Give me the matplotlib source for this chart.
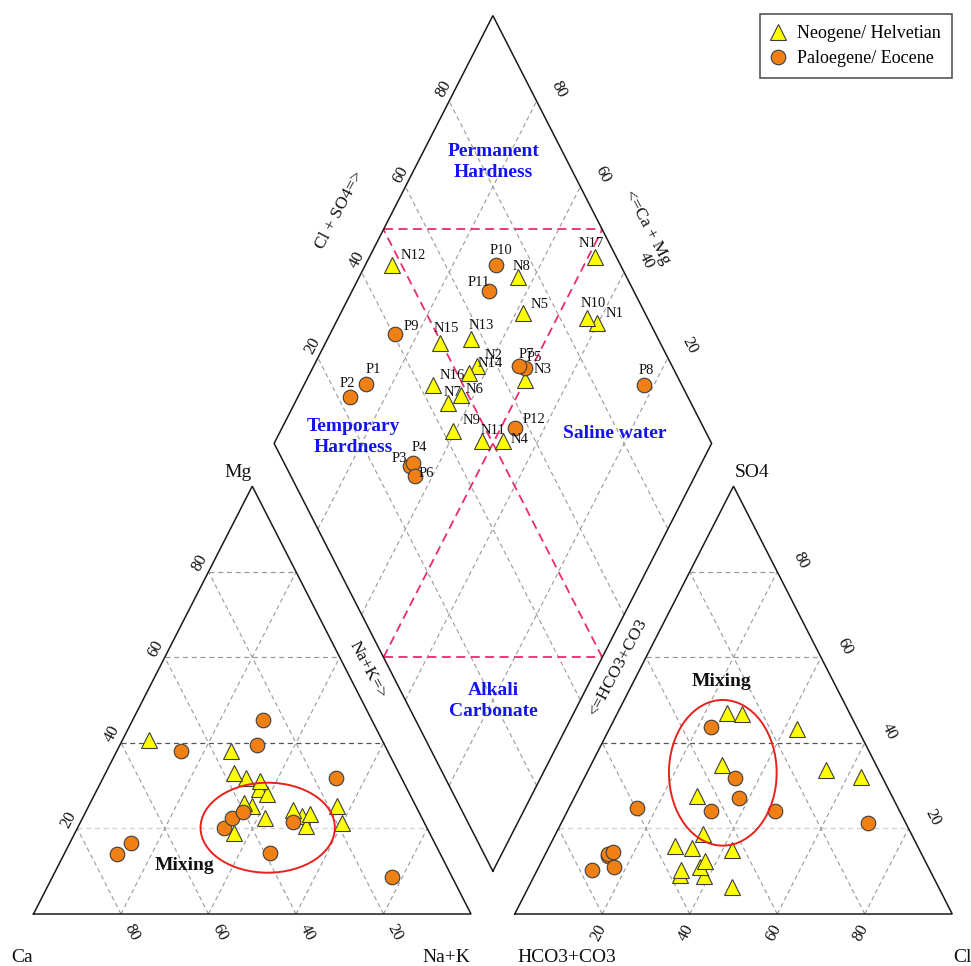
import numpy as np
import matplotlib
matplotlib.use("Agg")
import matplotlib.pyplot as plt
from matplotlib.lines import Line2D
from matplotlib.patches import Ellipse

plt.rcParams['font.family'] = ['Liberation Serif', 'DejaVu Serif']

# ---------------- sample chemistry (meq %) ----------------
neo_names = ['N1', 'N2', 'N3', 'N4', 'N5', 'N6', 'N7', 'N8', 'N9', 'N10',
             'N11', 'N12', 'N13', 'N14', 'N15', 'N16', 'N17']
neo_ca = [19.0, 37.5, 27.1, 27.5, 35.9, 33.7, 38.9, 44.6, 32.7, 17.9,
          28.6, 53.3, 35.5, 32.6, 35.8, 37.7, 25.1]
neo_mg = [21.2, 25.3, 22.9, 20.5, 22.5, 29.3, 26.0, 19.0, 28.0, 25.3,
          24.2, 40.7, 31.7, 31.1, 38.0, 32.9, 23.3]
neo_nak = [59.8, 37.2, 50.0, 52.0, 41.6, 37.0, 35.1, 36.4, 39.3, 56.8,
           47.2, 6.0, 32.8, 36.3, 26.2, 29.4, 51.6]
neo_hco3 = [12.1, 44.6, 35.2, 47.5, 28.0, 51.8, 55.5, 24.7, 57.7, 13.8,
            52.2, 52.2, 42.9, 47.2, 50.3, 56.9, 4.9]
neo_so4 = [33.6, 27.6, 34.8, 18.8, 47.0, 15.5, 15.8, 46.8, 9.0, 43.3,
           8.9, 11.1, 14.9, 6.3, 12.3, 10.4, 32.1]
neo_cl = [54.3, 27.8, 30.0, 33.7, 25.0, 32.7, 28.7, 28.5, 33.3, 42.9,
          38.9, 36.7, 42.2, 46.5, 37.4, 32.7, 63.0]

pal_names = ['P1', 'P2', 'P3', 'P4', 'P5', 'P6', 'P7', 'P8', 'P9', 'P10',
             'P11', 'P12']
pal_ca = [69.4, 74.0, 46.4, 43.5, 29.9, 40.1, 38.8, 13.7, 47.2, 24.9, 29.2, 15.0]
pal_mg = [16.6, 14.0, 20.0, 22.4, 21.5, 23.9, 14.3, 8.6, 38.0, 45.4, 39.6, 31.9]
pal_nak = [14.0, 12.0, 33.6, 34.1, 48.6, 36.0, 46.9, 77.7, 14.8, 29.7, 31.2, 53.1]
pal_hco3 = [72.0, 77.2, 71.6, 70.4, 33.7, 71.7, 35.1, 8.6, 59.7, 28.5, 33.2, 43.2]
pal_so4 = [13.5, 10.2, 14.0, 14.5, 31.9, 11.1, 27.1, 21.3, 24.7, 24.1, 43.7, 24.1]
pal_cl = [14.5, 12.6, 14.4, 15.1, 34.4, 17.2, 37.8, 70.1, 15.6, 47.4, 23.1, 32.7]

grid_levels = [20, 40, 60, 80]

# ---------------- Piper geometry ----------------
H = np.sqrt(3) / 2          # triangle height (side = 1)
GAP = 0.1                   # gap between the two base triangles
RX0 = 1 + GAP               # left corner of the anion triangle
BX = 1 + GAP / 2            # bottom vertex of the diamond
HB = GAP / 2 * np.sqrt(3)


def cation_xy(mg, nak):
    mg = np.asarray(mg) / 100.0
    nak = np.asarray(nak) / 100.0
    return nak + 0.5 * mg, H * mg


def anion_xy(so4, cl):
    so4 = np.asarray(so4) / 100.0
    cl = np.asarray(cl) / 100.0
    return RX0 + cl + 0.5 * so4, H * so4


def diamond_ab(a, b):
    """a = Cl+SO4 fraction, b = Ca+Mg fraction."""
    a = np.asarray(a, dtype=float)
    b = np.asarray(b, dtype=float)
    return BX + 0.5 * (a - b), HB + H * (a + b)


def diamond_xy(ca, mg, hco3):
    a = 1 - np.asarray(hco3) / 100.0
    b = (np.asarray(ca) + np.asarray(mg)) / 100.0
    return diamond_ab(a, b)


# ---------------- figure ----------------
W, Hpx = 971, 966
X0, Y0, SX, SY = 33.5, 914.0, 437.5, 494.0
fig = plt.figure(figsize=(W / 100, Hpx / 100), dpi=100)
ax = fig.add_axes([0, 0, 1, 1])
ax.set_xlim(-X0 / SX, (W - X0) / SX)
ax.set_ylim((Y0 - Hpx) / SY, Y0 / SY)
ax.axis('off')


def px(x, y):
    return (x - X0) / SX, (Y0 - y) / SY


GRID = '#9a9a9a'
DASH = (0, (4, 3))
hcol = {20: '#d2d2d2', 40: '#555555', 60: '#9a9a9a', 80: '#9a9a9a'}


def seg(p, q, **kw):
    ax.plot([p[0], q[0]], [p[1], q[1]], **kw)


# triangle grids
for ox in (0.0, RX0):
    for lv in grid_levels:
        k = lv / 100.0
        seg((ox + 0.5 * k, H * k), (ox + 1 - 0.5 * k, H * k),
            color=hcol[lv], lw=0.9, ls=DASH, zorder=1)
        seg((ox + k, 0), (ox + k + 0.5 * (1 - k), H * (1 - k)),
            color=GRID, lw=0.8, ls=DASH, zorder=1)
        seg((ox + 1 - k, 0), (ox + 0.5 * (1 - k), H * (1 - k)),
            color=GRID, lw=0.8, ls=DASH, zorder=1)

# diamond grid
for lv in grid_levels:
    k = lv / 100.0
    xs, ys = diamond_ab([k, k], [0, 1])
    ax.plot(xs, ys, color=GRID, lw=0.8, ls=DASH, zorder=1)
    xs, ys = diamond_ab([0, 1], [k, k])
    ax.plot(xs, ys, color=GRID, lw=0.8, ls=DASH, zorder=1)

# classification lines inside the diamond
PINK = '#EE2A6E'
PDASH = (0, (5, 3))
for a_pts, b_pts in (([0.5, 0.5], [0, 1]), ([0, 1], [0.5, 0.5]),
                     ([0, 0.5], [0.5, 0]), ([0.5, 1], [1, 0.5])):
    xs, ys = diamond_ab(a_pts, b_pts)
    ax.plot(xs, ys, color=PINK, lw=1.3, ls=PDASH, zorder=2)

# outlines
EDGE = dict(color='#1a1a1a', lw=1.1, zorder=3, solid_joinstyle='miter')
ax.plot([0, 1, 0.5, 0], [0, 0, H, 0], **EDGE)
ax.plot([RX0, RX0 + 1, RX0 + 0.5, RX0], [0, 0, H, 0], **EDGE)
xs, ys = diamond_ab([0, 1, 1, 0, 0], [0, 0, 1, 1, 0])
ax.plot(xs, ys, **EDGE)

# tick labels
TICK_FS = 12


def tick(u, v, txt, dx, dy, rot):
    ax.annotate(txt, xy=(u, v), xytext=(dx, -dy), textcoords='offset pixels',
                ha='center', va='center', rotation=rot, rotation_mode='anchor',
                fontsize=TICK_FS, color='#111111')


for lv in grid_levels:
    k = lv / 100.0
    tick(0.5 * k, H * k, str(lv), -9, -9, 62)                 # Mg
    tick(1 - k, 0, str(lv), 11, 18, -62)                      # Ca
    tick(RX0 + k, 0, str(lv), -4, 19, 62)                     # Cl
    tick(RX0 + 1 - 0.5 * k, H * k, str(lv), 24, -11, -62)     # SO4
    u, v = diamond_ab(k, 1)
    tick(u, v, str(lv), -5, -12, 62)                          # Cl + SO4
    u, v = diamond_ab(1, k)
    tick(u, v, str(lv), 22, -12, -62)                         # Ca + Mg

# axis names
AX_FS = 14
for txt, (x, y) in (('Mg', (238.5, 472.5)), ('SO4', (752, 472.5)),
                    ('Ca', (22.5, 958)), ('Na+K', (446, 958)),
                    ('HCO3+CO3', (566.7, 958)), ('Cl', (962, 958))):
    ax.text(*px(x, y), txt, ha='center', va='center', fontsize=AX_FS,
            color='#111111')

SIDE_FS = 12.5
for txt, (x, y), rot in (('Na+K=>', (368, 670), -62),
                         ('<=HCO3+CO3', (618, 668), 62),
                         ('Cl + SO4=>', (340, 210), 62),
                         ('<=Ca + Mg', (647, 227), -62)):
    ax.text(*px(x, y), txt, ha='center', va='center', fontsize=SIDE_FS,
            rotation=rot, rotation_mode='anchor', color='#111111')

# water type names
BLUE = '#1414F0'
for txt, (x, y) in (('Permanent\nHardness', (493.3, 161.7)),
                    ('Temporary\nHardness', (353, 437)),
                    ('Saline water', (615, 433)),
                    ('Alkali\nCarbonate', (493.3, 701))):
    ax.text(*px(x, y), txt, ha='center', va='center', fontsize=14,
            fontweight='bold', color=BLUE, linespacing=1.3, zorder=4)

for x, y in ((184.3, 865.7), (721.7, 681.7)):
    ax.text(*px(x, y), 'Mixing', ha='center', va='center', fontsize=14,
            fontweight='bold', color='#111111', zorder=4)

# mixing zones
for (x, y), w, h in (((267.7, 827.7), 134.3, 90.0),
                     ((722.8, 772.8), 107.7, 145.7)):
    ax.add_patch(Ellipse(px(x, y), w / SX, h / SY, fill=False,
                         edgecolor='#E8211D', lw=1.4, zorder=6))

# ---------------- samples ----------------
YEL = '#FFFF00'
ORG = '#F08014'
MEDGE = '#3d3d3d'
tri_kw = dict(ls='none', marker='^', ms=11, mfc=YEL, mec=MEDGE, mew=0.8, zorder=5)
cir_kw = dict(ls='none', marker='o', ms=10.5, mfc=ORG, mec=MEDGE, mew=0.8, zorder=5)

ax.plot(*cation_xy(neo_mg, neo_nak), **tri_kw)
ax.plot(*anion_xy(neo_so4, neo_cl), **tri_kw)
ax.plot(*cation_xy(pal_mg, pal_nak), **cir_kw)
ax.plot(*anion_xy(pal_so4, pal_cl), **cir_kw)
nd = diamond_xy(neo_ca, neo_mg, neo_hco3)
pd_ = diamond_xy(pal_ca, pal_mg, pal_hco3)
ax.plot(*nd, **tri_kw)
ax.plot(*pd_, **cir_kw)

# label offsets (pixels, right / down)
label_off = {
    'N1': (17, -10), 'N2': (17, -10), 'N3': (17, -11), 'N4': (17, -2),
    'N5': (17, -9), 'N6': (14, -6), 'N7': (4, -11), 'N8': (3, -10),
    'N9': (19, -10), 'N10': (6, -14), 'N11': (11, -10), 'N12': (21, -9),
    'N13': (11, -14), 'N14': (21, -9), 'N15': (6, -14), 'N16': (20, -9),
    'N17': (-4, -14),
    'P1': (7, -14), 'P2': (-3, -14), 'P3': (-10, -7), 'P4': (6, -15),
    'P5': (9, -10), 'P6': (12, -3), 'P7': (8, -12), 'P8': (2, -14),
    'P9': (17, -8), 'P10': (5, -14), 'P11': (-10, -9), 'P12': (19, -8),
}
for names, (xs, ys) in ((neo_names, nd), (pal_names, pd_)):
    for nm, x, y in zip(names, xs, ys):
        dx, dy = label_off[nm]
        ax.annotate(nm, xy=(x, y), xytext=(dx, -dy), textcoords='offset pixels',
                    ha='center', va='center', fontsize=10.5, color='#111111',
                    zorder=7)

# legend
handles = [Line2D([], [], **tri_kw), Line2D([], [], **cir_kw)]
leg = fig.legend(handles, ['Neogene/ Helvetian', 'Paloegene/ Eocene'],
                 loc='upper right', bbox_to_anchor=(952 / W, 1 - 14 / Hpx),
                 bbox_transform=fig.transFigure, borderaxespad=0,
                 fontsize=13, frameon=True, fancybox=False, borderpad=0.6,
                 labelspacing=0.45, handlelength=0.8, handletextpad=0.65,
                 numpoints=1)
leg.get_frame().set_edgecolor('#1a1a1a')
leg.get_frame().set_linewidth(1.1)

fig.savefig('out.png', dpi=100)
